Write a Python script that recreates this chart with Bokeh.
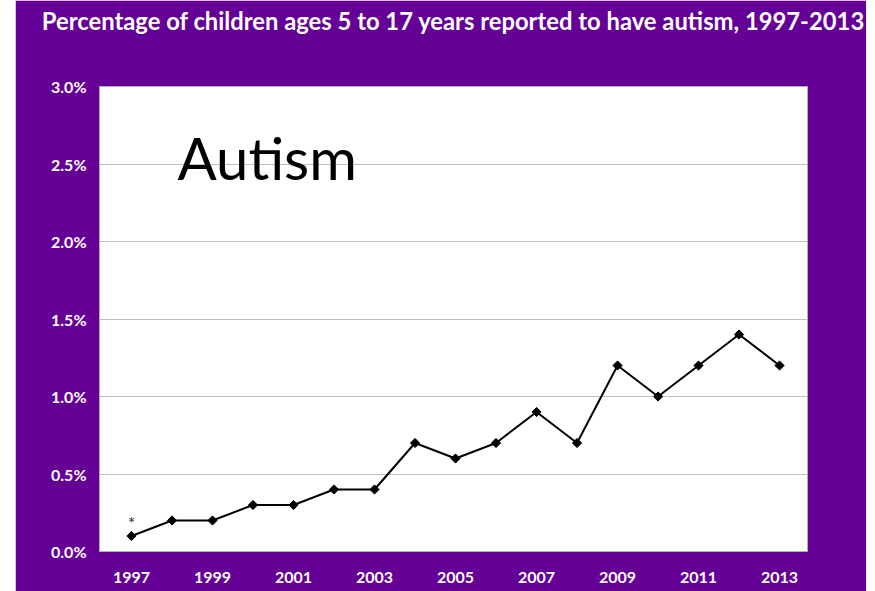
import math
from bokeh.plotting import figure
from bokeh.models import Label, FixedTicker, Range1d, LinearAxis
from bokeh.embed import file_html
from bokeh.resources import INLINE

try:
    from bokeh.models import CustomLabelingPolicy
    hide_labels = CustomLabelingPolicy()
except Exception:
    hide_labels = None

years = [1997, 1998, 1999, 2000, 2001, 2002, 2003, 2004, 2005, 2006, 2007, 2008, 2009, 2010, 2011, 2012, 2013]
autism_pct = [0.1, 0.2, 0.2, 0.3, 0.3, 0.4, 0.4, 0.7, 0.6, 0.7, 0.9, 0.7, 1.2, 1.0, 1.2, 1.4, 1.2]
y_ticks = [0.0, 0.5, 1.0, 1.5, 2.0, 2.5, 3.0]
x_ticks = [1997, 1999, 2001, 2003, 2005, 2007, 2009, 2011, 2013]
title_text = "Percentage of children ages 5 to 17 years reported to have autism, 1997-2013"
label_text = "Autism"

PURPLE = "#650096"
FONT = "Lato"

p = figure(width=851, height=591, output_backend="svg", toolbar_location=None,
           x_range=Range1d(1996.21, 2013.69), y_range=Range1d(0, 3.0),
           min_border_left=84, min_border_right=59, min_border_top=81, min_border_bottom=40,
           title=title_text)
p.margin = (0, 9, 0, 15)
p.background_fill_color = "white"
p.border_fill_color = PURPLE
p.outline_line_color = "#b0b0b0"
p.outline_line_width = 1

p.title.text_color = "white"
p.title.text_font = FONT
p.title.text_font_style = "bold"
p.title.text_font_size = "23.8px"
p.title.align = "center"
p.title.vertical_align = "top"
p.title.standoff = 12

p.line(years, autism_pct, line_color="black", line_width=2)
p.scatter(years, autism_pct, marker="square", angle=math.pi / 4, size=6.5, color="black")

p.xgrid.grid_line_color = None
p.ygrid.grid_line_color = "#c0c0c0"
p.ygrid.grid_line_width = 1.2

x_axis = p.below[0]
y_axis = p.left[0]
y_axis.ticker = FixedTicker(ticks=y_ticks)
y_axis.major_label_overrides = {t: f"{t:.1f}%" for t in y_ticks}
x_axis.ticker = FixedTicker(ticks=x_ticks)
x_axis.major_label_overrides = {t: str(t) for t in x_ticks}

for ax in (x_axis, y_axis):
    ax.axis_line_color = None
    ax.major_tick_line_color = None
    ax.minor_tick_line_color = None
    ax.major_label_text_color = "white"
    ax.major_label_text_font = FONT
    ax.major_label_text_font_style = "bold"
    ax.major_label_text_font_size = "16px"
y_axis.major_label_standoff = 7
x_axis.major_label_standoff = 14

# invisible spacer between title and frame (undrawn tick, labels suppressed)
if hide_labels is not None:
    spacer = LinearAxis(ticker=FixedTicker(ticks=[x_ticks[4]]), axis_line_color=None,
                        major_tick_line_color=None, minor_tick_line_color=None,
                        major_tick_out=40, major_tick_in=0, minor_tick_out=0,
                        major_label_standoff=0, major_label_text_font_size="1px",
                        major_label_text_color=PURPLE, major_label_policy=hide_labels)
    p.add_layout(spacer, "above")

big = Label(x=78, y=394, x_units="screen", y_units="screen", text=label_text,
            text_color="black", text_font=FONT, text_font_size="58px",
            text_align="left", text_baseline="middle")
p.add_layout(big)

star = Label(x=years[0], y=autism_pct[0], text="*", text_color="#333355",
             text_font=FONT, text_font_size="18px", text_align="center",
             text_baseline="bottom", y_offset=2)
p.add_layout(star)

open("out.html", "w").write(file_html(p, INLINE))
